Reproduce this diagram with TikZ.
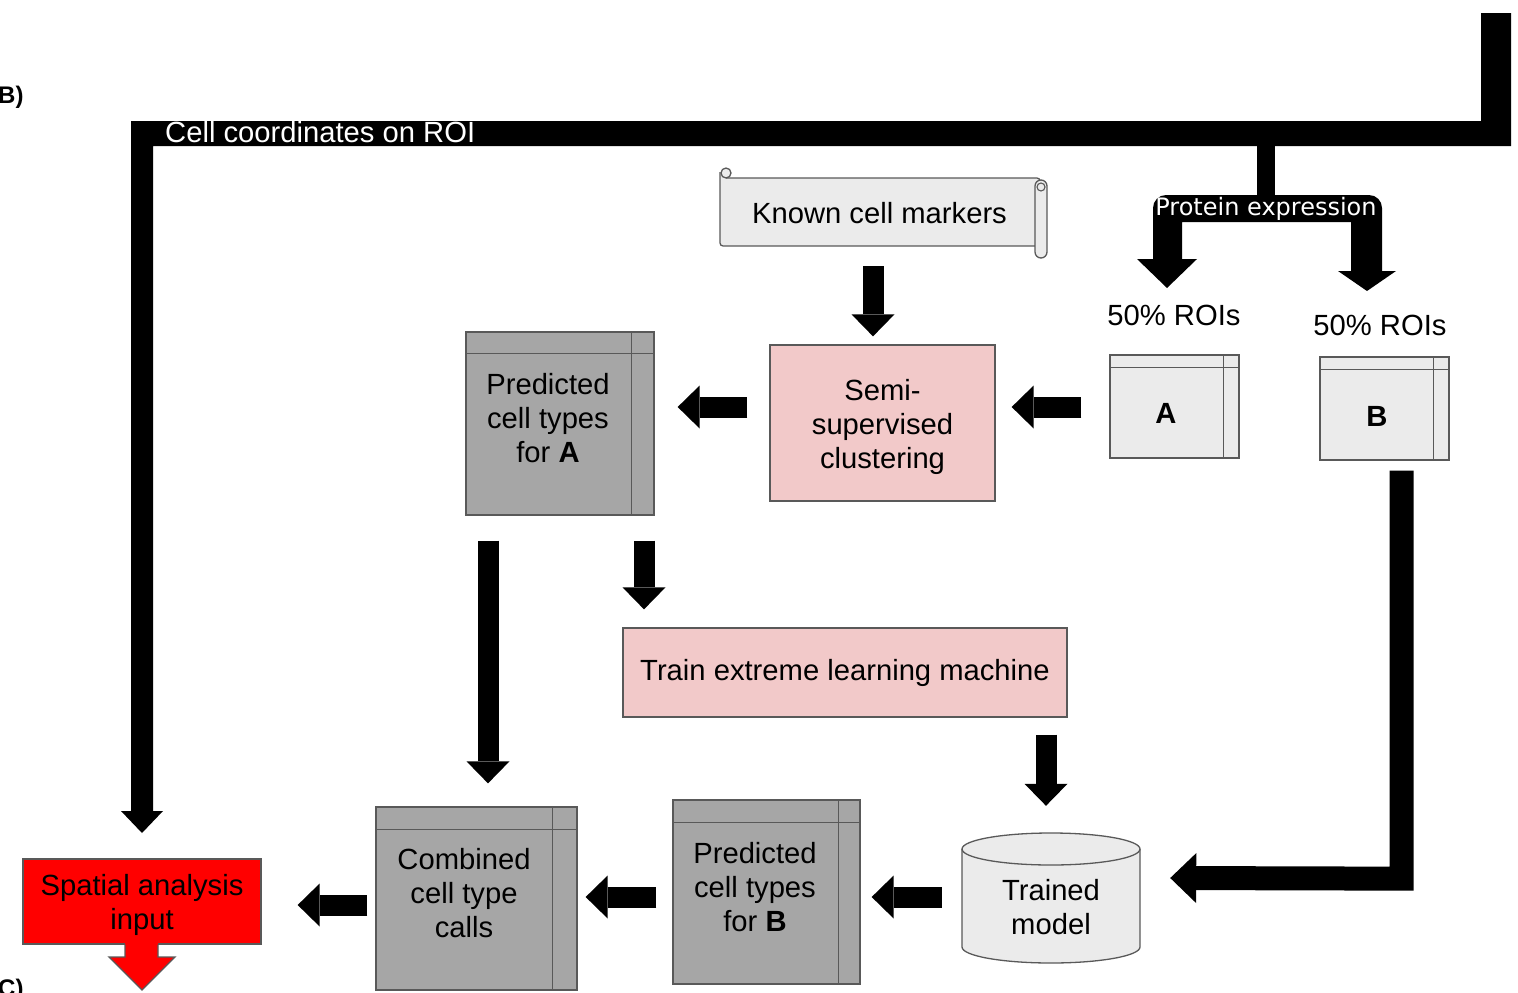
\documentclass[tikz,border=0pt]{standalone}
\usepackage{fontspec}
\setmainfont{Liberation Sans}
\newfontfamily\dejavufont{DejaVu Sans}
\usetikzlibrary{arrows.meta,calc}
\definecolor{lgray}{RGB}{235,235,235}
\definecolor{dgray}{RGB}{166,166,166}
\definecolor{pinkfill}{RGB}{242,201,201}
\definecolor{edge}{RGB}{89,89,89}
\newcommand\fsmain{\fontsize{29.2}{34}\selectfont}
\newcommand\tablelines[3]{%
  \draw[tl] ($(#1.north west)+(0,#2)$) -- ($(#1.north east)+(0,#2)$);
  \draw[tl] ($(#1.north east)+(-#3,0)$) -- ($(#1.south east)+(-#3,0)$);}
\begin{document}
\begin{tikzpicture}[x=1pt,y=-1pt,
  tl/.style={draw=edge,line width=1.3pt},
  tbl/.style={draw=edge,line width=1.3pt,inner sep=0pt},
  txt/.style={inner sep=0pt,align=center,font=\fsmain},
  barrow/.style={draw=black,line width=21pt,-{Triangle[width=43pt,length=22pt,line width=0pt]}}]
\useasboundingbox (0,0) rectangle (1518,993);

% section labels
\node[anchor=base west,inner sep=0pt,font=\fontsize{24}{28}\selectfont\bfseries] (lblB) at (-2,103) {B)};
\node[anchor=base west,inner sep=0pt,font=\fontsize{24}{28}\selectfont\bfseries] (lblC) at (-2,996) {C)};

% big coordinate bar
\fill[black] (1481,13) -- (1511,13) -- (1511,146) -- (153,146) -- (153,811) -- (163,811)
  -- (142,833) -- (121,811) -- (131,811) -- (131,121) -- (1481,121) -- cycle;
\node[anchor=base west,inner sep=0pt,font=\fsmain,text=white] (coordtxt) at (165,142) {Cell coordinates on ROI};

% protein expression split
\fill[black] (1257,140) rectangle (1275,197);
\fill[black] (1153,259) [rounded corners=13] -- (1153,195) -- (1382,195) [sharp corners] -- (1382,271)
  -- (1351,271) -- (1351,222) -- (1182,222) -- (1182,259) -- cycle;
\fill[black] (1137,259) -- (1197,259) -- (1167,288) -- cycle;
\fill[black] (1338,271) -- (1396,271) -- (1367,291) -- cycle;
\node[inner sep=0pt,font=\dejavufont\fontsize{24}{28}\selectfont,text=white] (prot) at (1266,209) {Protein expression};

\node[anchor=base,inner sep=0pt,font=\fsmain] (roiA) at (1174,325) {50\% ROIs};
\node[anchor=base,inner sep=0pt,font=\fsmain] (roiB) at (1380,335) {50\% ROIs};

% known cell markers scroll
\filldraw[fill=lgray,draw=edge,line width=1.3pt,rounded corners=3] (720,172) -- (720,246) -- (1040,246) -- (1040,178) -- (726,178);
\filldraw[fill=lgray,draw=edge,line width=1.3pt] (726,173) circle[radius=5];
\filldraw[fill=lgray,draw=edge,line width=1.3pt,rounded corners=6] (1035,180) rectangle (1047,258);
\draw[edge,line width=1.1pt] (1041,187) circle[radius=4];
\node[txt,minimum width=317,minimum height=68] (markers) at (879.5,213) {Known cell markers};

% tables A and B
\node[tbl,fill=lgray,minimum width=129,minimum height=103] (A) at (1174.5,406.5) {};
\tablelines{A}{13}{16}
\node[inner sep=0pt,font=\fsmain\bfseries] (Atxt) at (1166,413) {A};
\node[tbl,fill=lgray,minimum width=129,minimum height=103] (B) at (1384.5,408.5) {};
\tablelines{B}{13}{16}
\node[inner sep=0pt,font=\fsmain\bfseries] (Btxt) at (1377,416) {B};

% semi-supervised clustering
\node[tbl,fill=pinkfill,minimum width=225,minimum height=156] (semi) at (882.5,423) {};
\node[txt] (semitxt) at (882.5,427) {Semi-\\supervised\\clustering};

% predicted A
\node[tbl,fill=dgray,minimum width=188,minimum height=183] (predA) at (560,423.5) {};
\tablelines{predA}{22}{23}
\node[txt] (predAtxt) at (548,418) {Predicted\\cell types\\for \textbf{A}};

% train ELM
\node[tbl,fill=pinkfill,minimum width=444,minimum height=89] (train) at (845,672.5) {};
\node[txt] (traintxt) at (845,673) {Train extreme learning machine};

% trained model cylinder
\filldraw[fill=lgray,draw=edge,line width=1.3pt] (962,849) -- (962,947)
  arc[start angle=180,end angle=0,x radius=89,y radius=16] -- (1140,849)
  arc[start angle=0,end angle=-180,x radius=89,y radius=16] -- cycle;
\draw[tl] (962,849) arc[start angle=180,end angle=0,x radius=89,y radius=16];
\node[minimum width=178,minimum height=130,inner sep=0pt] (model) at (1051,898) {};
\node[txt] (modeltxt) at (1051,907) {Trained\\model};

% predicted B
\node[tbl,fill=dgray,minimum width=187,minimum height=184] (predB) at (766.5,892) {};
\tablelines{predB}{23}{22}
\node[txt] (predBtxt) at (755,887) {Predicted\\cell types\\for \textbf{B}};

% combined
\node[tbl,fill=dgray,minimum width=201,minimum height=183] (comb) at (476.5,898.5) {};
\tablelines{comb}{23}{25}
\node[txt] (combtxt) at (464,893) {Combined\\cell type\\calls};

% spatial analysis input
\node[tbl,fill=red,minimum width=238,minimum height=85] (spatial) at (142,901.5) {};
\fill[red] (125,943) -- (125,957) -- (109,957) -- (142,990) -- (175,957) -- (158,957) -- (158,943) -- cycle;
\draw[tl] (125,944.5) -- (125,957) -- (109,957) -- (142,990) -- (175,957) -- (158,957) -- (158,944.5);
\node[txt] (spatialtxt) at (142,905) {Spatial analysis\\input};

% block arrows
\draw[barrow] ($(markers.south)+(-6.5,19)$) -- ($(semi.north)+(-9.5,-8)$);
\draw[barrow] ($(A.west)+(-28,0.5)$) -- ($(semi.east)+(16,-16)$);
\draw[barrow] ($(semi.west)+(-22,-16)$) -- ($(predA.east)+(23,-16.5)$);
\draw[barrow] ($(predA.south)+(-72,25)$) -- ($(comb.north)+(11.5,-23)$);
\draw[barrow] ($(predA.south)+(84,25)$) -- ($(train.north)+(-201,-18)$);
\draw[barrow] ($(train.south)+(201,17)$) -- ($(model.north)+(-5,-27)$);
\draw[barrow] ($(model.west)+(-20,-1)$) -- ($(predB.east)+(11,5)$);
\draw[barrow] ($(predB.west)+(-16,5)$) -- ($(comb.east)+(8,-1.5)$);
\draw[barrow] ($(comb.west)+(-8,6.5)$) -- ($(spatial.east)+(36,3.5)$);
\draw[draw=black,line width=24pt,-{Triangle[width=50pt,length=26pt,line width=0pt]}]
  ($(B.south)+(17,10)$) -- ($(B.south)+(17,418)$) -- ($(model.east)+(30,-20)$);
\end{tikzpicture}
\end{document}
